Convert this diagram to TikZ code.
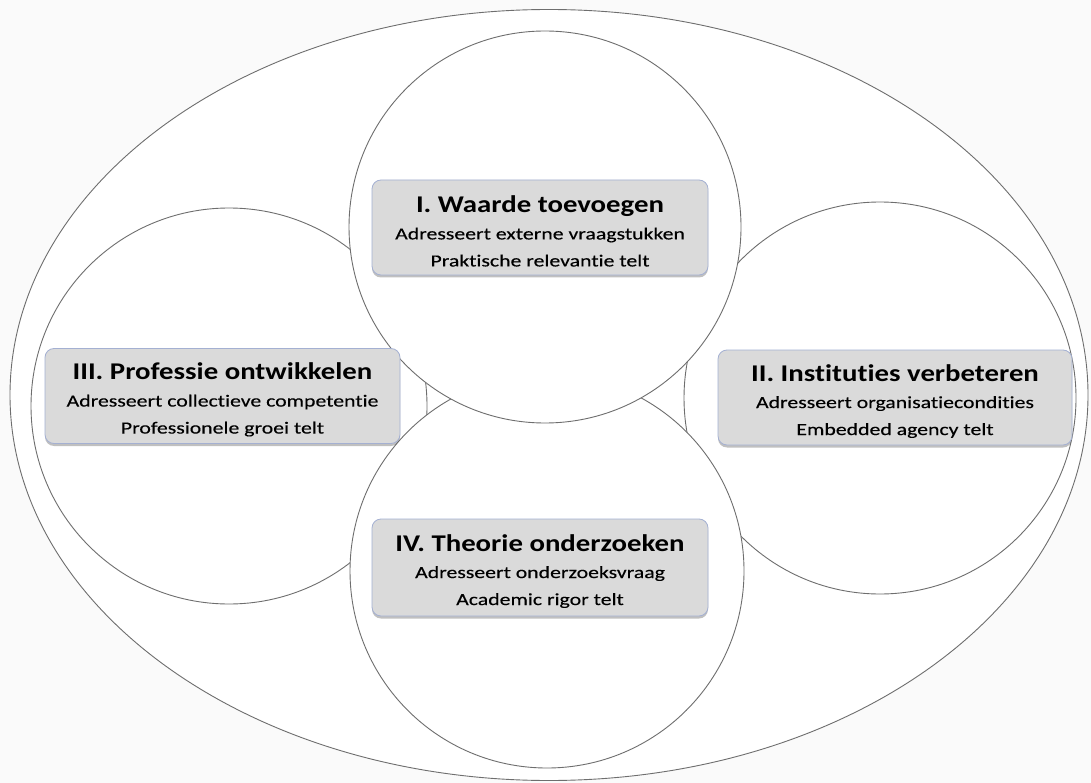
\documentclass[tikz,border=0pt]{standalone}
\usepackage{fontspec}
\setmainfont{Carlito}[Ligatures=CommonOff]
\newfontfamily\subfont{Carlito}[FakeStretch=1.28,FakeBold=0.3,Ligatures=CommonOff]
\newfontfamily\headfont{Carlito}[FakeStretch=1.2,Ligatures=CommonOff]
\usetikzlibrary{shapes.geometric,shadows}
\definecolor{rimline}{HTML}{6E6E6E}
\definecolor{boxfill}{HTML}{DADADA}
\definecolor{boxrim}{HTML}{A4B0D2}
\definecolor{paper}{HTML}{FAFAFA}
\tikzset{
  ring/.style={circle, draw=rimline, line width=0.9pt, fill=white, minimum size=#1, inner sep=0pt},
  goalbox/.style={rectangle, rounded corners=9pt, draw=boxrim, line width=0.8pt, fill=boxfill,
    minimum width=#1, minimum height=95pt, align=center, inner sep=0pt,
    font=\subfont\fontsize{17}{27}\selectfont,
    drop shadow={shadow xshift=0pt, shadow yshift=-2.5pt, opacity=0.35, fill=black!70}}
}
\newcommand{\goaltitle}[1]{{\headfont\fontsize{24}{26}\selectfont\bfseries\rule{0pt}{24pt}#1}}
\begin{document}
\begin{tikzpicture}[x=1pt,y=-1pt]
  \fill[paper] (0,0) rectangle (1091,783);
  \useasboundingbox (0,0) rectangle (1091,783);
  % outer field
  \node[ellipse, draw=rimline, line width=0.9pt, fill=white, minimum width=1078pt, minimum height=771pt, inner sep=0pt] (whole) at (549,395) {};
  % the four rings, top one last
  \node[ring=396pt] (leftring) at (229,406) {};
  \node[ring=392pt] (rightring) at (880,398) {};
  \node[ring=394pt] (bottomring) at (547,571) {};
  \node[ring=392pt] (topring) at (545,227) {};
  % labels
  \node[goalbox=336pt] (waarde) at (540,227.5)
    {\goaltitle{I. Waarde toevoegen}\\Adresseert externe vraagstukken\\Praktische relevantie telt};
  \node[goalbox=354pt] (instituties) at (895,397.5)
    {\goaltitle{II. Instituties verbeteren}\\Adresseert organisatiecondities\\Embedded agency telt};
  \node[goalbox=355pt] (professie) at (222.5,396)
    {\goaltitle{III. Professie ontwikkelen}\\Adresseert collectieve competentie\\Professionele groei telt};
  \node[goalbox=336pt, minimum height=97pt] (theorie) at (540,567.5)
    {\goaltitle{IV. Theorie onderzoeken}\\Adresseert onderzoeksvraag\\Academic rigor telt};
\end{tikzpicture}
\end{document}
